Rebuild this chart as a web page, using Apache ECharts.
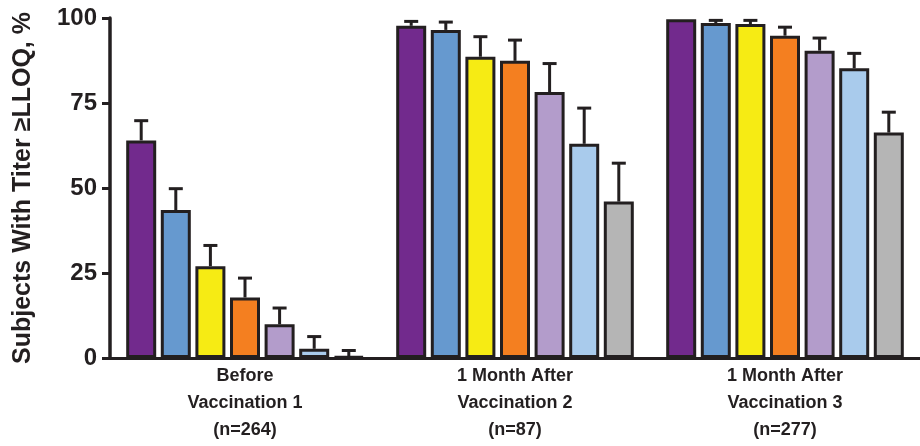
<!DOCTYPE html>
<html>
<head>
<meta charset="utf-8">
<script src="https://cdn.jsdelivr.net/npm/echarts@6/dist/echarts.min.js"></script>
<style>
html,body{margin:0;padding:0;background:#fff;}
#chart{width:920px;height:446px;}
</style>
</head>
<body>
<div id="chart"></div>
<script>
// ---- data ----
const categories = ['Before\nVaccination 1\n(n=264)', '1 Month After\nVaccination 2\n(n=87)', '1 Month After\nVaccination 3\n(n=277)'];
const yTicks = [0, 25, 50, 75, 100];
const yTitle = 'Subjects With Titer \u2265LLOQ, %';

const values1 = [64.0, 97.7, 99.6];
const values2 = [43.5, 96.5, 98.5];
const values3 = [27.0, 88.6, 98.2];
const values4 = [17.8, 87.4, 94.8];
const values5 = [9.9, 78.2, 90.4];
const values6 = [2.7, 63.0, 85.2];
const values7 = [0.4, 46.0, 66.3];

const upper1 = [69.8, 99.0, 99.6];
const upper2 = [49.8, 98.8, 99.3];
const upper3 = [33.1, 94.5, 99.3];
const upper4 = [23.5, 93.5, 97.3];
const upper5 = [14.7, 86.6, 94.1];
const upper6 = [6.3, 73.5, 89.6];
const upper7 = [2.2, 57.3, 72.3];

// ---- style ----
const colors = ['#722a8d', '#6699cf', '#f6eb14', '#f47f20', '#b39ccb', '#a9cbec', '#b5b5b5'];
const ink = '#231f20';
const BAR_W = 30;
const BAR_STEP = 34.6;
const BAR_GAP = (BAR_STEP - BAR_W) / BAR_W;
const FONT = '"Liberation Sans", Arial, Helvetica, sans-serif';

const allValues = [values1, values2, values3, values4, values5, values6, values7];
const allUpper = [upper1, upper2, upper3, upper4, upper5, upper6, upper7];

const series = [];
allValues.forEach((vals, i) => {
  series.push({
    type: 'bar',
    data: vals,
    barWidth: BAR_W,
    barGap: (BAR_GAP * 100) + '%',
    itemStyle: { color: colors[i], borderColor: ink, borderWidth: 3 },
    z: 2
  });
});
allValues.forEach((vals, i) => {
  const offset = (i - 3) * BAR_STEP;
  series.push({
    type: 'custom',
    data: vals.map((v, k) => [k, v, allUpper[i][k]]),
    encode: { x: 0, y: [1, 2] },
    z: 3,
    silent: true,
    renderItem: function (params, api) {
      const ci = api.value(0), v = api.value(1), u = api.value(2);
      if (!(u > v)) return null;
      const base = api.coord([ci, v]);
      const top = api.coord([ci, u]);
      const x = base[0] + offset;
      const st = { stroke: ink, lineWidth: 3, fill: null };
      return {
        type: 'group',
        children: [
          { type: 'line', shape: { x1: x, y1: base[1], x2: x, y2: top[1] }, style: st },
          { type: 'line', shape: { x1: x - 7, y1: top[1], x2: x + 7, y2: top[1] }, style: st }
        ]
      };
    }
  });
});

const chart = echarts.init(document.getElementById('chart'));
chart.setOption({
  animation: false,
  backgroundColor: '#ffffff',
  grid: { left: 110, top: 18, width: 819, bottom: 88, containLabel: false },
  xAxis: {
    type: 'category',
    data: categories,
    axisLine: { lineStyle: { color: ink, width: 3 } },
    axisTick: { show: false },
    axisLabel: {
      color: ink, fontFamily: FONT, fontWeight: 'bold', fontSize: 18,
      lineHeight: 27, margin: 5, interval: 0
    }
  },
  yAxis: {
    type: 'value',
    min: yTicks[0], max: yTicks[yTicks.length - 1], interval: 25,
    name: yTitle,
    nameLocation: 'middle',
    nameRotate: 90,
    nameGap: 74,
    nameTextStyle: { color: ink, fontFamily: FONT, fontWeight: 'bold', fontSize: 25 },
    axisLine: { show: true, lineStyle: { color: ink, width: 3.5 } },
    axisTick: { show: true, length: 8, lineStyle: { color: ink, width: 3 } },
    splitLine: { show: false },
    axisLabel: { color: ink, fontFamily: FONT, fontWeight: 'bold', fontSize: 24, margin: 13 }
  },
  series: series
});
</script>
</body>
</html>
